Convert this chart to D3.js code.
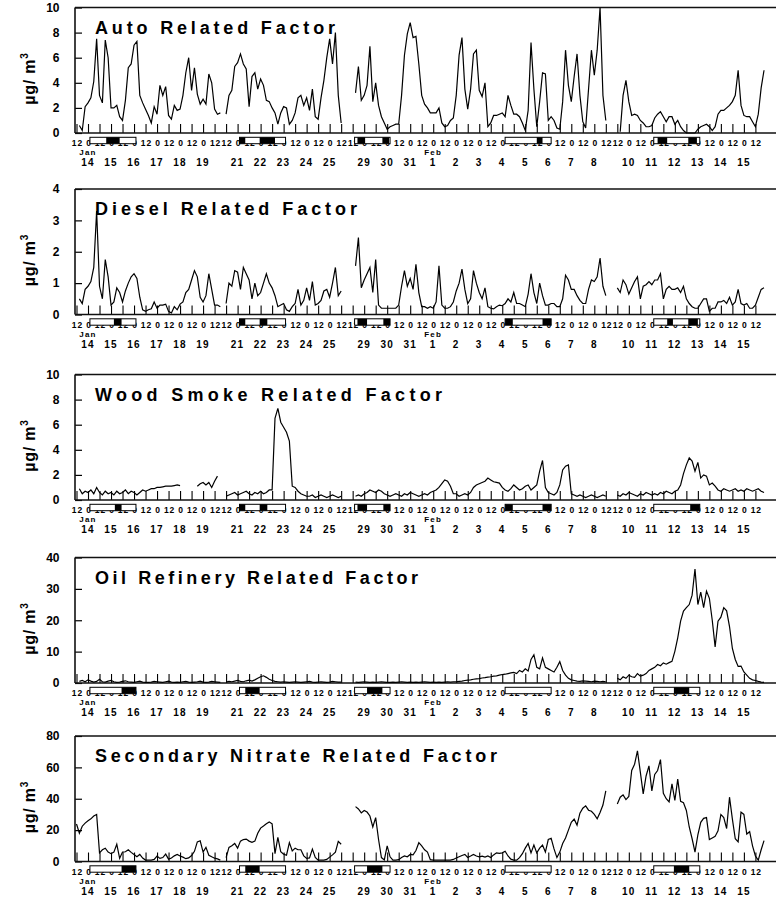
<!DOCTYPE html>
<html><head><meta charset="utf-8">
<script src="https://cdn.jsdelivr.net/npm/d3@7"></script>
<style>
body{margin:0;background:#fff}
text{font-family:"Liberation Sans",Arial,sans-serif;font-weight:bold;fill:#000}
</style></head>
<body><svg id="c" width="776" height="897"></svg>
<script>
// ---------- DATA ----------
// Sampled every 3 h on the chart's (compressed) time axis; index i -> axis hour 3*i.
const titles = ["Auto Related Factor","Diesel Related Factor","Wood Smoke Related Factor","Oil Refinery Related Factor","Secondary Nitrate Related Factor"];
const yMaxes = [10,4,10,40,80];
const ySteps = [2,1,2,10,20];
const titleWidths = [240,262,347,323,402];

const autoFactor = [
null,0.6,0.2,2.1,2.4,2.8,4.1,7.5,3.0,2.4,
7.4,6.0,2.0,2.0,2.2,1.3,1.0,2.6,5.2,5.5,
7.0,7.3,3.0,2.4,1.9,1.4,0.8,2.1,1.5,3.8,
3.0,3.7,1.4,1.1,2.2,1.8,1.9,3.0,4.8,6.0,
3.4,5.2,3.1,2.3,2.7,2.3,4.7,4.0,1.9,1.5,
1.6,null,1.5,3.0,3.4,5.3,5.6,6.3,5.5,5.1,
2.1,4.5,4.8,3.5,4.3,3.8,2.6,2.5,2.0,1.6,
0.7,1.6,2.1,2.0,0.7,1.0,1.6,2.8,3.0,2.2,
2.8,1.8,3.5,1.3,1.1,2.8,4.2,6.0,7.5,5.5,
8.0,3.0,0.8,null,null,null,null,3.2,5.3,2.6,
3.0,3.8,6.9,2.5,4.0,2.2,1.3,0.8,0.3,0.5,
0.6,0.7,0.7,3.0,6.2,7.9,8.8,7.6,7.7,5.5,
3.0,2.3,2.0,1.6,1.6,1.6,2.0,0.8,0.5,0.6,
1.0,1.2,3.0,6.2,7.6,3.5,1.9,3.5,6.3,6.6,
3.4,2.9,4.0,0.5,0.8,1.4,1.4,1.5,1.6,1.3,
3.0,2.2,1.5,1.5,1.3,0.8,0.2,1.8,7.2,3.5,
0.5,2.5,4.8,4.7,1.0,1.3,1.0,0.4,0.3,2.5,
6.6,3.8,2.5,4.5,6.3,3.0,0.9,0.4,3.5,6.6,
4.6,6.6,10,3.0,1.0,null,null,null,null,0.1,
3.0,4.2,2.5,1.4,1.5,1.4,1.0,0.8,0.5,0.5,
0.6,1.2,1.5,1.7,1.3,0.9,1.3,1.3,0.7,1.0,
0.5,0.2,0,0,0,0,0.3,0.5,0.6,0.7,
0.5,0.2,0.5,1.5,1.8,1.8,2.0,2.2,2.5,3.0,
5.0,2.2,1.4,1.3,1.3,0.9,0.5,1.5,3.6,5.0,
null];

const dieselFactor = [
null,0.5,0.35,0.8,0.9,1.05,1.5,3.3,0.9,0.5,
1.75,1.2,0.3,0.4,0.85,0.7,0.4,0.75,1.0,1.2,
1.3,1.15,0.55,0.15,0.1,0.15,0.18,0.4,0.2,0.3,
0.3,0.33,0.1,0.05,0.25,0.15,0.33,0.4,0.7,0.8,
1.1,1.4,1.2,0.55,0.4,0.6,1.3,0.8,0.3,0.3,
0.25,null,0.35,1.0,0.9,1.4,1.35,0.8,1.5,1.3,
1.1,0.5,1.0,0.6,0.7,1.0,1.3,1.0,0.85,0.6,
0.25,0.3,0.35,0.15,0.1,0.25,0.35,0.8,0.3,0.45,
0.85,0.45,1.05,0.3,0.35,0.45,0.75,0.8,0.55,1.0,
1.5,0.6,0.75,null,null,null,null,1.55,2.45,0.85,
1.1,1.3,1.5,0.7,1.75,0.3,0.2,0.2,0.2,0.2,
0.2,0.2,0.3,0.9,1.4,0.9,1.15,0.8,1.6,0.7,
0.25,0.25,0.2,0.25,0.2,0.4,1.55,0.3,0.2,0.2,
0.25,0.4,0.75,1.0,1.45,0.8,0.35,0.5,1.4,1.0,
0.7,0.5,0.85,0.25,0.2,0.18,0.25,0.3,0.28,0.35,
0.5,0.4,0.7,0.35,0.35,0.3,0.25,0.65,1.3,0.7,
0.35,1.0,0.6,0.3,0.3,0.35,0.35,0.25,0.25,0.5,
1.25,1.1,0.8,0.8,0.6,0.45,0.35,0.35,0.8,1.1,
1.05,1.2,1.8,0.9,0.6,null,null,null,0.85,0.7,
1.1,0.95,0.65,0.85,1.05,1.2,0.5,0.9,0.95,1.05,
0.95,1.1,1.1,1.3,0.5,0.8,0.9,0.8,0.8,0.85,
0.7,0.9,0.5,0.35,0.25,0.2,0.2,0.35,0.5,0.5,
0.1,0.2,0.2,0.4,0.4,0.45,0.35,0.55,0.3,0.4,
0.8,0.35,0.3,0.35,0.2,0.2,0.3,0.55,0.8,0.85,
null];

const woodFactor = [
null,0.9,0.5,0.7,0.6,0.8,0.5,1.0,0.6,0.4,
0.7,0.5,0.6,0.4,0.7,0.5,0.6,0.8,0.5,0.7,
0.6,0.4,0.6,0.8,0.7,0.8,0.9,0.9,1.0,1.0,
1.05,1.1,1.1,1.1,1.15,1.2,1.15,null,null,null,
null,null,1.1,1.3,1.4,1.2,1.4,1.0,1.5,1.9,
null,null,0.3,0.4,0.5,0.6,0.4,0.5,0.6,0.7,
0.5,0.4,0.6,0.5,0.7,0.5,0.6,0.8,0.8,6.5,
7.3,6.2,5.8,5.4,4.7,1.1,1.0,0.7,0.5,0.4,
0.3,0.3,0.4,0.2,0.3,0.4,0.3,0.2,0.3,0.4,
0.3,0.2,0.3,null,null,null,null,0.3,0.4,0.3,
0.5,0.6,0.8,0.7,0.6,0.8,0.7,0.5,0.4,0.3,
0.4,0.5,0.4,0.3,0.5,0.4,0.6,0.5,0.4,0.3,
0.4,0.5,0.4,0.6,0.7,0.8,1.0,1.3,1.6,1.5,
1.1,0.5,0.5,0.3,0.4,0.5,0.4,0.6,1.0,1.2,
1.3,1.4,1.5,1.75,1.6,1.45,1.4,1.35,1.0,0.8,
0.7,0.9,1.2,1.0,0.8,0.9,1.1,1.2,0.8,1.0,
1.2,2.3,3.15,1.0,0.6,0.5,0.4,0.6,1.2,2.4,
2.7,2.8,0.5,0.4,0.3,0.4,0.3,0.2,0.3,0.4,
0.3,0.2,0.3,0.4,0.3,null,null,null,0.4,0.3,
0.5,0.4,0.6,0.5,0.4,0.3,0.5,0.4,0.6,0.5,
0.4,0.5,0.4,0.6,0.5,0.7,0.6,0.5,0.7,0.8,
1.2,2.1,2.8,3.35,3.1,2.3,3.0,1.75,2.0,1.9,
1.2,1.35,1.1,0.8,0.7,0.9,0.8,0.7,0.8,0.9,
0.7,0.8,0.7,0.9,0.8,0.7,0.8,0.9,0.7,0.6,
null];

const oilFactor = [
null,0.5,0.8,0.4,1.0,0.6,0.3,0.5,1.2,0.4,
0.3,0.6,0.8,0.4,0.2,0.3,0.5,0.7,0.4,0.3,
0.2,0.4,0.6,0.3,0.2,0.2,0.3,0.5,0.4,0.3,
0.2,0.4,0.6,0.3,0.2,0.3,0.2,0.4,0.5,0.3,
0.2,0.3,0.4,0.6,0.3,0.2,0.3,0.5,0.4,0.3,
0.2,null,0.3,0.5,0.4,0.6,0.8,0.5,0.4,0.7,
0.9,0.6,1.0,1.5,2.0,2.3,1.8,1.2,0.8,0.5,
0.4,0.3,0.4,0.3,0.2,0.3,0.4,0.3,0.2,0.3,
0.4,0.5,0.3,0.2,0.3,0.4,0.3,0.2,0.3,0.5,
0.4,0.3,0.3,null,null,null,null,0.3,0.2,0.3,
0.4,0.3,0.2,0.3,0.2,0.3,0.4,0.3,0.2,0.2,
0.3,0.2,0.3,0.4,0.3,0.2,0.3,0.2,0.3,0.2,
0.3,0.4,0.3,0.2,0.3,0.2,0.3,0.2,0.3,0.4,
0.3,0.4,0.4,0.5,0.6,0.8,0.9,1.0,1.2,1.3,
1.4,1.6,1.7,1.9,2.0,2.2,2.3,2.5,2.7,2.8,
3.0,3.2,3.4,3.0,4.0,3.5,4.5,3.8,7.5,9.0,
5.0,4.5,8.0,5.0,4.5,4.0,3.5,5.0,6.8,4.0,
2.5,1.5,1.0,0.8,0.6,0.5,0.7,0.6,0.5,0.4,
0.6,0.5,0.4,0.5,0.4,null,null,null,1.5,1.0,
2.0,1.5,2.5,2.0,1.8,3.0,2.2,2.5,3.0,4.0,
4.5,5.0,5.9,5.5,6.4,6.0,6.5,6.9,10.1,14.4,
19.7,22.9,24.0,25.0,28.0,36.3,25.0,29.0,24.0,29.3,
27.0,20.0,11.5,19.7,21.0,24.0,23.0,18.0,11.0,7.5,
5.3,5.4,3.5,2.5,1.5,1.0,0.8,0.5,0.3,0.2,
null];

const nitrateFactor = [
23.9,18,22.5,24.5,26,27.2,29,30,5.5,7.5,
8.5,6,5,6,11,2,6,6.2,7.5,5.8,
4.5,3,4.5,2.2,0.9,0.9,0.9,1.3,3.5,2,
2.5,4.7,1.5,2.2,3.6,4.5,3.5,2.8,1.8,2.3,
3.8,6.5,12.5,13.2,6,9,4,3,2.1,1.7,
0.9,null,2.5,9,10,11.5,8.5,13,14,14.3,
13,12.2,13,18,21.3,22.6,24,25.2,24,5,
15.4,6.2,4.7,4,12,6.8,8.5,7.5,7.5,3.6,
2,2.3,7.9,2.6,0.9,0.9,0.9,1.3,2.8,4.2,
6,12.8,11,null,null,null,null,35,33.5,31,
32.5,31.5,29,22,28,14,2.5,1,10,3,
0.9,0.9,1.2,2.6,3.6,3,4.5,4.2,7,12,
10,7.5,6,1.2,0.9,0.9,0.9,0.9,0.9,0.9,
0.9,1.3,2.2,3,3.8,4.5,2.6,3.5,4.5,3.5,
3,3.4,2.8,3.5,2.6,4.2,5.5,5.2,5.5,6.5,
3.5,1.5,0.9,0.9,2.5,5,8.5,11.5,5.5,10.5,
5.5,8.5,10.5,6,14,14.8,8,2.5,6,11.5,
15,20,25,27,23.2,30.8,34,35.5,32.7,32,
30,27.2,31.3,36,45,null,null,null,36.7,41,
42.5,39.5,41.5,58,62,70.5,57,43.1,54.5,61,
45,55.5,58,65,43.5,40,38,49.5,39,52.5,
38.3,37.5,32.5,22,14.5,6,17,25,27.5,28,
14,15,16,19.6,30,28,21,41,27,14.5,
12.5,31.5,30,17.5,19,10,3.5,0.9,7.5,13.3,
null];

// x-axis structure: sampled periods (days shown), tick labels
const segmentDays = [6,5,11,6];
const dayLabels = [
 ["14","15","16","17","18","19"],
 ["21","22","23","24","25"],
 ["29","30","31","1","2","3","4","5","6","7","8"],
 ["10","11","12","13","14","15"]];
const monthLabels = [{text:"Jan",seg:0,day:0},{text:"Feb",seg:2,day:3}];
const hourTickLabels = ["12","0"];
// weekend bars (axis hours) and their dark portions per panel
const weekendBars = [[14,62],[170,218],[290,327],[447,495],[602,650]];
const darkP1 = [[31,45],[170,176],[191,207],[293,301],[319,326],[480,486],[606,616],[638,647]];
const darkP2 = [[39,47],[170,176],[191,199],[293,303],[320,327],[447,455],[486,495],[616,622],[638,648]];
const darkP3 = [[40,47],[170,176],[191,199],[293,303],[320,327],[447,455],[486,495],[640,650]];
const darkP4 = [[47,62],[176,191],[303,319],[623,639]];
const darkP5 = [[47,62],[176,191],[303,319],[623,639]];

// ---------- LAYOUT ----------
const series = [autoFactor,dieselFactor,woodFactor,oilFactor,nitrateFactor];
const darks = [darkP1,darkP2,darkP3,darkP4,darkP5];
const panelTops = [7.5,189,374.5,557.5,736];
const panelH = 125.5;
const frameL = 75, frameR = 776;
const FONT = '"Liberation Sans",Arial,sans-serif';
const svg = d3.select("#c");

const segOffsets = [];
segmentDays.forEach((d,k)=>{ segOffsets.push(k===0?0:segOffsets[k-1]+segmentDays[k-1]*24+12); });
const axisEnd = segOffsets[3]+segmentDays[3]*24;
const x = d3.scaleLinear().domain([0,axisEnd]).range([76.5,755.4]);

function hourLabel(h){
  let k = 0;
  for(let j=0;j<segOffsets.length;j++) if(h>=segOffsets[j]) k=j;
  return hourTickLabels[((h-segOffsets[k])/12)%2];
}

const bad = series.filter(s=>s.length!==241).length;
if(bad) svg.append("text").attr("x",300).attr("y",450).style("fill","red").text("LEN ERR "+series.map(s=>s.length).join(","));

series.forEach((vals,p)=>{
  const g = svg.append("g").attr("transform",`translate(0,${panelTops[p]})`);
  const y = d3.scaleLinear().domain([0,yMaxes[p]]).range([panelH,0]);

  // y axis
  const ya = g.append("g").attr("transform",`translate(${frameL},0)`)
    .call(d3.axisLeft(y).tickValues(d3.range(0,yMaxes[p]+1e-9,ySteps[p])).tickFormat(d3.format("d")).tickSize(-7).tickPadding(15.5));
  ya.select(".domain").remove();
  ya.selectAll("line").attr("stroke","#000").attr("stroke-width",1.2);
  ya.selectAll("text").style("font-size","12px").style("font-family",FONT).style("font-weight","bold");

  // x axis (ticks inside, half-day labels below)
  const xa = g.append("g").attr("transform",`translate(0,${panelH})`)
    .call(d3.axisBottom(x).tickValues(d3.range(0,axisEnd+1,12)).tickSize(-9).tickPadding(7).tickFormat(hourLabel));
  xa.select(".domain").remove();
  xa.selectAll("line").attr("stroke","#000").attr("stroke-width",1.1);
  xa.selectAll("text").style("font-size","8.5px").style("letter-spacing","0.9px").attr("dx","0.45")
    .style("font-family",FONT).style("font-weight","bold");

  // frame
  g.append("line").attr("x1",frameL).attr("x2",frameL).attr("y1",0).attr("y2",panelH).attr("stroke","#111").attr("stroke-width",1.6);
  g.append("line").attr("x1",frameL).attr("x2",frameR).attr("y1",0).attr("y2",0).attr("stroke","#111").attr("stroke-width",1.6);
  g.append("line").attr("x1",frameL).attr("x2",frameR).attr("y1",panelH).attr("y2",panelH).attr("stroke","#111").attr("stroke-width",1.6);

  // weekend bars
  const by = panelH+4.3, bh = 6.4;
  g.selectAll("rect.wk").data(weekendBars).join("rect").attr("class","wk")
    .attr("x",d=>x(d[0])).attr("width",d=>x(d[1])-x(d[0])).attr("y",by).attr("height",bh)
    .attr("fill","#fff").attr("stroke","#000").attr("stroke-width",1);
  g.selectAll("rect.dk").data(darks[p]).join("rect").attr("class","dk")
    .attr("x",d=>x(d[0])).attr("width",d=>x(d[1])-x(d[0])).attr("y",by).attr("height",bh)
    .attr("fill","#000");

  // month and day labels
  monthLabels.forEach(m=>{
    g.append("text").attr("x",x(segOffsets[m.seg]+12+24*m.day)).attr("y",panelH+22.2)
      .attr("text-anchor","middle").style("font-size","8px").style("letter-spacing","1.2px").text(m.text);
  });
  dayLabels.forEach((days,k)=>{
    days.forEach((d,j)=>{
      g.append("text").attr("x",x(segOffsets[k]+12+24*j)).attr("y",panelH+33.2)
        .attr("text-anchor","middle").style("font-size","10px").style("letter-spacing","1.2px").text(d);
    });
  });

  // title
  g.append("text").attr("x",95).attr("y",26).style("font-size","18px")
    .attr("textLength",titleWidths[p]).attr("lengthAdjust","spacing").text(titles[p]);

  // unit label
  const ul = g.append("text").attr("transform",`translate(35,71) rotate(-90)`)
    .attr("text-anchor","middle").style("font-size","16px").style("letter-spacing","0.8px");
  ul.append("tspan").text("µg/ m");
  ul.append("tspan").attr("dy",-7).style("font-size","10px").text("3");

  // data line
  const pts = vals.map((v,i)=>({h:i*3,v:v}));
  const line = d3.line().defined(d=>d.v!==null).x(d=>x(d.h)).y(d=>y(d.v));
  g.append("path").datum(pts).attr("d",line).attr("fill","none").attr("stroke","#000").attr("stroke-width",1.2);
});
</script>
</body></html>
